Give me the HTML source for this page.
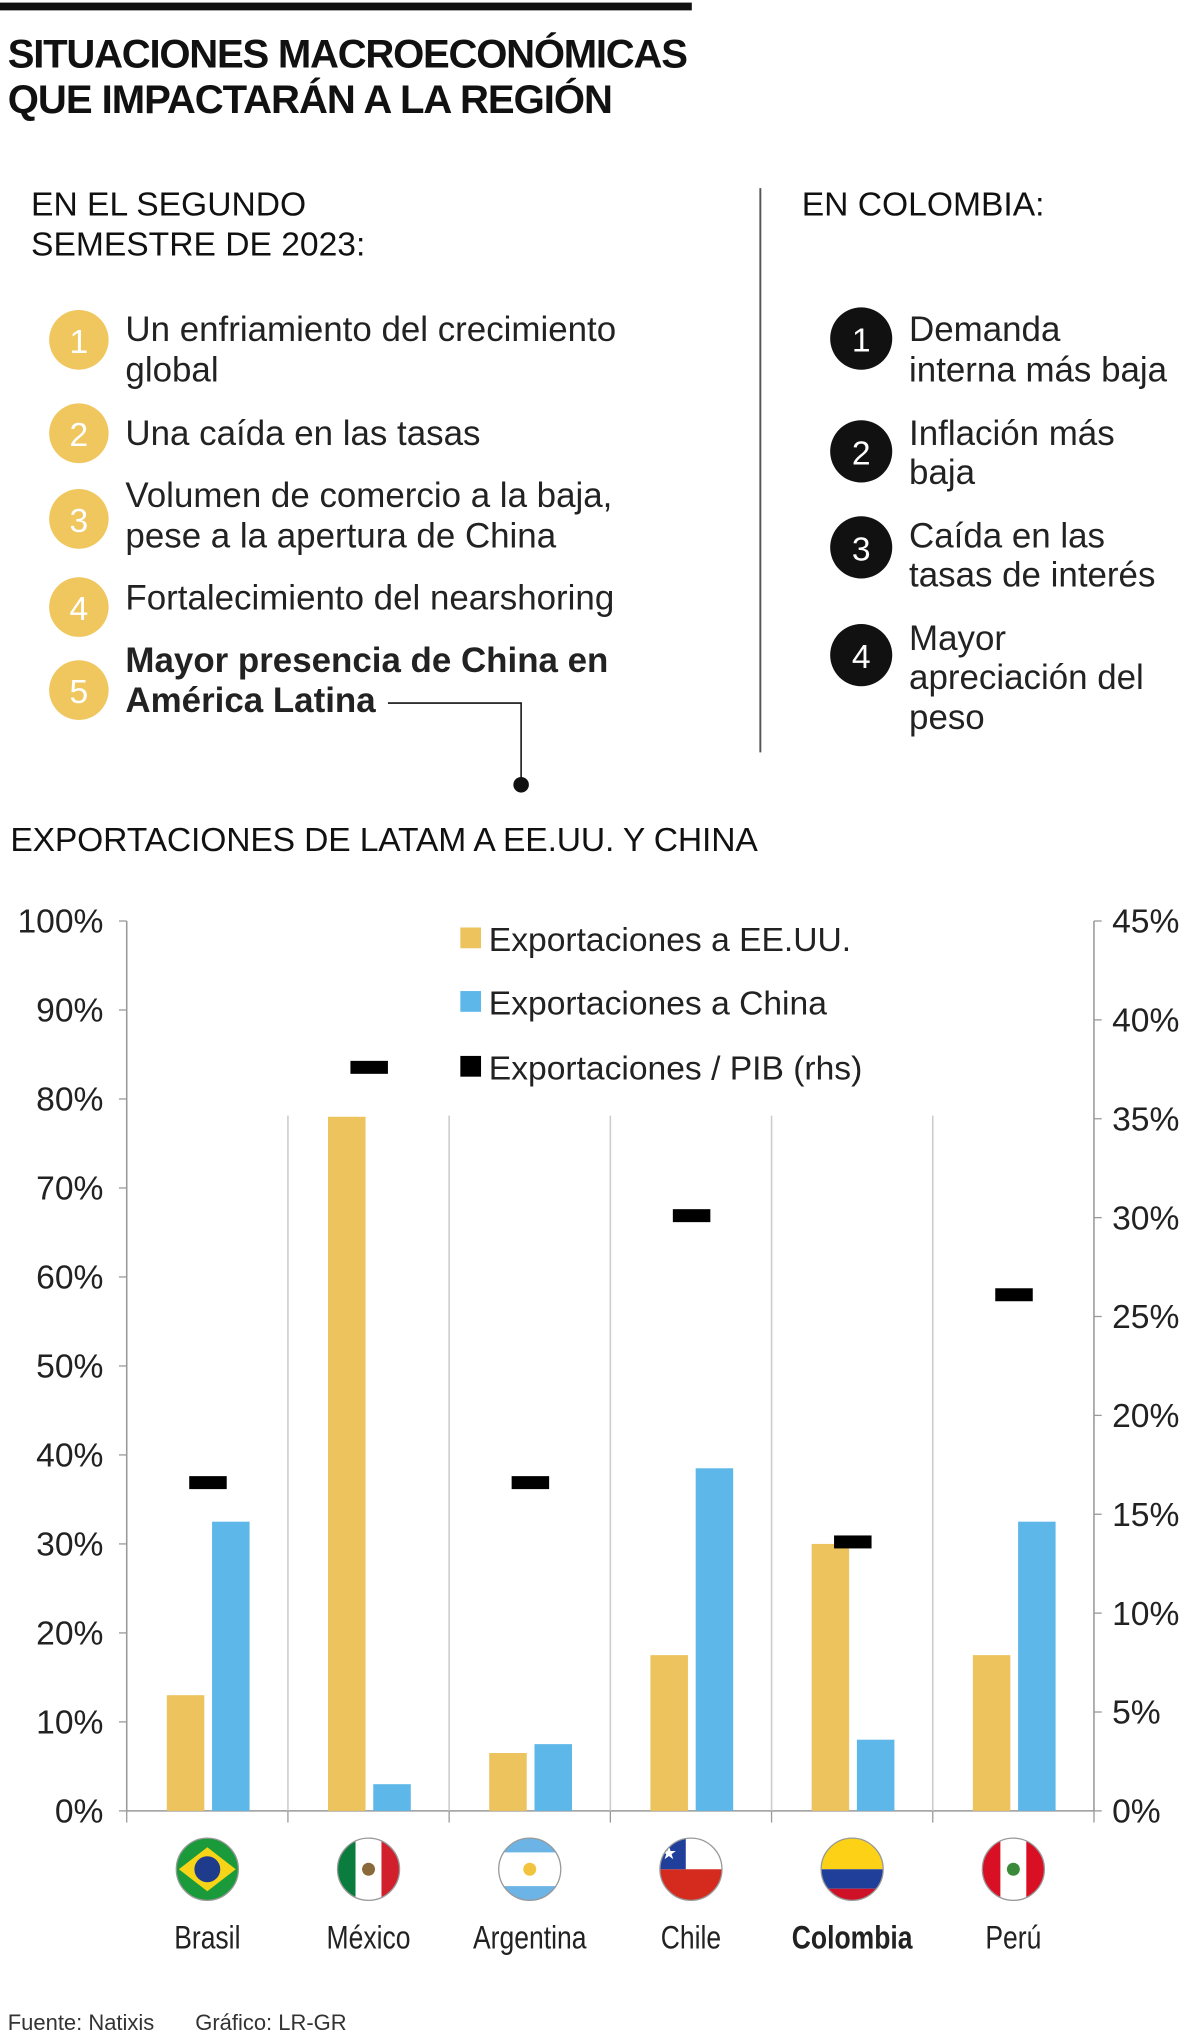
<!DOCTYPE html>
<html><head><meta charset="utf-8"><style>
html,body{margin:0;padding:0;background:#fff}
svg{display:block}
text{font-family:"Liberation Sans",sans-serif;fill:#111}
.t{font-weight:bold;font-size:31px}
.h{font-size:26px}
.it{font-size:27px;font-weight:300;fill:#222}
.tk{font-size:26px;fill:#222}
.lg{font-size:26px;fill:#222}
.cat{font-size:25px;fill:#222}
</style></head><body>
<svg id="s" width="1200" height="2034" viewBox="0 0 928 1568" preserveAspectRatio="none" xmlns="http://www.w3.org/2000/svg">
<rect x="0" y="2" width="535" height="6" fill="#111"/>
<text class="t" x="6" y="52" textLength="526">SITUACIONES MACROECONÓMICAS</text>
<text class="t" x="6" y="87" textLength="468">QUE IMPACTARÁN A LA REGIÓN</text>
<text class="h" x="24" y="166">EN EL SEGUNDO</text>
<text class="h" x="24" y="197">SEMESTRE DE 2023:</text>
<line x1="588" y1="145" x2="588" y2="580" stroke="#555" stroke-width="1.5"/>
<text class="h" x="620" y="166">EN COLOMBIA:</text>
<g>
<circle cx="61" cy="262" r="23" fill="#f0c75e"/><text x="61" y="272" text-anchor="middle" style="fill:#fff;font-size:26px">1</text>
<text class="it" x="97" y="263">Un enfriamiento del crecimiento</text><text class="it" x="97" y="294">global</text>
<circle cx="61" cy="334" r="23" fill="#f0c75e"/><text x="61" y="344" text-anchor="middle" style="fill:#fff;font-size:26px">2</text>
<text class="it" x="97" y="343">Una caída en las tasas</text>
<circle cx="61" cy="400" r="23" fill="#f0c75e"/><text x="61" y="410" text-anchor="middle" style="fill:#fff;font-size:26px">3</text>
<text class="it" x="97" y="391">Volumen de comercio a la baja,</text><text class="it" x="97" y="422">pese a la apertura de China</text>
<circle cx="61" cy="468" r="23" fill="#f0c75e"/><text x="61" y="478" text-anchor="middle" style="fill:#fff;font-size:26px">4</text>
<text class="it" x="97" y="470">Fortalecimiento del nearshoring</text>
<circle cx="61" cy="532" r="23" fill="#f0c75e"/><text x="61" y="542" text-anchor="middle" style="fill:#fff;font-size:26px">5</text>
<text class="it" x="97" y="518" style="font-weight:600">Mayor presencia de China en</text><text class="it" x="97" y="549" style="font-weight:600">América Latina</text>
<polyline points="300,542 403,542 403,605" fill="none" stroke="#111" stroke-width="1.2"/><circle cx="403" cy="605" r="6" fill="#111"/>
</g>
<g>
<circle cx="666" cy="261" r="24" fill="#111"/><text x="666" y="271" text-anchor="middle" style="fill:#fff;font-size:26px">1</text>
<text class="it" x="703" y="263">Demanda</text><text class="it" x="703" y="294">interna más baja</text>
<circle cx="666" cy="348" r="24" fill="#111"/><text x="666" y="358" text-anchor="middle" style="fill:#fff;font-size:26px">2</text>
<text class="it" x="703" y="343">Inflación más</text><text class="it" x="703" y="373">baja</text>
<circle cx="666" cy="422" r="24" fill="#111"/><text x="666" y="432" text-anchor="middle" style="fill:#fff;font-size:26px">3</text>
<text class="it" x="703" y="422">Caída en las</text><text class="it" x="703" y="452">tasas de interés</text>
<circle cx="666" cy="505" r="24" fill="#111"/><text x="666" y="515" text-anchor="middle" style="fill:#fff;font-size:26px">4</text>
<text class="it" x="703" y="501">Mayor</text><text class="it" x="703" y="531">apreciación del</text><text class="it" x="703" y="562">peso</text>
</g>
<text class="h" x="8" y="656" textLength="578">EXPORTACIONES DE LATAM A EE.UU. Y CHINA</text>
<g id="chart"></g>
<text x="6" y="1565" style="font-size:17px;fill:#333">Fuente: Natixis</text>
<text x="151" y="1565" style="font-size:17px;fill:#333">Gráfico: LR-GR</text>
</svg>
<script>
const categories=["Brasil","México","Argentina","Chile","Colombia","Perú"];
const usValues=[13,78,6.5,17.5,30,17.5];
const chinaValues=[32.5,3,7.5,38.5,8,32.5];
const gdpValues=[16.6,37.6,16.6,30.1,13.6,26.1];
const leftTicks=[0,10,20,30,40,50,60,70,80,90,100];
const rightTicks=[0,5,10,15,20,25,30,35,40,45];
const NS="http://www.w3.org/2000/svg";
const g=document.getElementById('chart');
const X0=98,X1=846,Y0=1396,Y1=710,CW=(X1-X0)/categories.length;
const yL=v=>Y0-(v/100)*(Y0-Y1);
const yR=v=>Y0-(v/45)*(Y0-Y1);
function mk(t,a){const e=document.createElementNS(NS,t);for(const k in a)e.setAttribute(k,a[k]);g.appendChild(e);return e;}
let e;
e=mk('line',{x1:X0,y1:Y1,x2:X0,y2:Y0,stroke:'#999','stroke-width':1.2});


e=mk('line',{x1:X1,y1:Y1,x2:X1,y2:Y0,stroke:'#999','stroke-width':1.2});


e=mk('line',{x1:X0,y1:Y0,x2:X1,y2:Y0,stroke:'#999','stroke-width':1.2});


leftTicks.forEach(v=>{mk('line',{x1:X0-6,y1:yL(v),x2:X0,y2:yL(v),stroke:'#999'});
e=mk('text',{x:80,y:yL(v)+9,'text-anchor':'end',class:'tk'});e.textContent=v+'%';

});
rightTicks.forEach(v=>{mk('line',{x1:X1,y1:yR(v),x2:X1+6,y2:yR(v),stroke:'#999'});
e=mk('text',{x:860,y:yR(v)+9,class:'tk'});e.textContent=v+'%';

});
for(let i=0;i<=categories.length;i++){const x=X0+i*CW;
if(i>0&&i<categories.length){e=mk('line',{x1:x,y1:860,x2:x,y2:Y0,stroke:'#ccc','stroke-width':1.2});

}
mk('line',{x1:x,y1:Y0,x2:x,y2:Y0+9,stroke:'#999'});}
const flags=[
`<rect x="-30" y="-30" width="60" height="60" fill="#1a9a3a"/><polygon points="0,-17 22,0 0,17 -22,0" fill="#f7d417"/><circle r="10" fill="#1f3b8c"/>`,
`<rect x="-30" y="-30" width="20" height="60" fill="#0a7d3e"/><rect x="-10" y="-30" width="20" height="60" fill="#fff"/><rect x="10" y="-30" width="20" height="60" fill="#d21f2c"/><circle r="5" fill="#8a6a3a"/>`,
`<rect x="-30" y="-30" width="60" height="60" fill="#fff"/><rect x="-30" y="-30" width="60" height="17" fill="#6cb4e6"/><rect x="-30" y="13" width="60" height="17" fill="#6cb4e6"/><circle r="5" fill="#f2c33d"/>`,
`<rect x="-30" y="-30" width="60" height="30" fill="#fff"/><rect x="-30" y="0" width="60" height="30" fill="#d52b1e"/><rect x="-30" y="-30" width="26" height="30" fill="#1f3f9a"/><text x="-17" y="-8" text-anchor="middle" style="fill:#fff;font-size:14px">★</text>`,
`<rect x="-30" y="-30" width="60" height="30" fill="#fcd116"/><rect x="-30" y="0" width="60" height="15" fill="#1f3f9a"/><rect x="-30" y="15" width="60" height="15" fill="#ce1126"/>`,
`<rect x="-30" y="-30" width="20" height="60" fill="#d91023"/><rect x="-10" y="-30" width="20" height="60" fill="#fff"/><rect x="10" y="-30" width="20" height="60" fill="#d91023"/><circle r="5" fill="#3a8a3a"/>`];
const defs=document.createElementNS(NS,'defs');defs.innerHTML='<clipPath id="fc"><circle r="24"/></clipPath>';g.appendChild(defs);
categories.forEach((c,i)=>{const x0=X0+i*CW,cx=x0+CW/2;
let b=mk('rect',{x:x0+31,y:yL(usValues[i]),width:29,height:Y0-yL(usValues[i]),fill:'#ecc35c'});


b=mk('rect',{x:x0+66,y:yL(chinaValues[i]),width:29,height:Y0-yL(chinaValues[i]),fill:'#5db7e8'});


b=mk('rect',{x:cx-14,y:yR(gdpValues[i])-5,width:29,height:10,fill:'#000'});


const fg=mk('g',{transform:`translate(${cx},1441)`,'clip-path':'url(#fc)'});fg.innerHTML=flags[i];


mk('circle',{cx:cx,cy:1441,r:24,fill:'none',stroke:'#999','stroke-width':1});
const t=mk('text',{x:cx,y:1502,'text-anchor':'middle',class:'cat',transform:`translate(${cx},0) scale(0.82,1) translate(${-cx},0)`});
if(c==='Colombia')t.style.fontWeight='bold';t.textContent=c;

});
const legend=[['#ecc35c','Exportaciones a EE.UU.',733],['#5db7e8','Exportaciones a China',782],['#000','Exportaciones / PIB (rhs)',832]];
legend.forEach(l=>{e=mk('rect',{x:356,y:l[2]-18,width:16,height:16,fill:l[0]});


e=mk('text',{x:378,y:l[2],class:'lg'});e.textContent=l[1];

});
</script>
</body></html>
